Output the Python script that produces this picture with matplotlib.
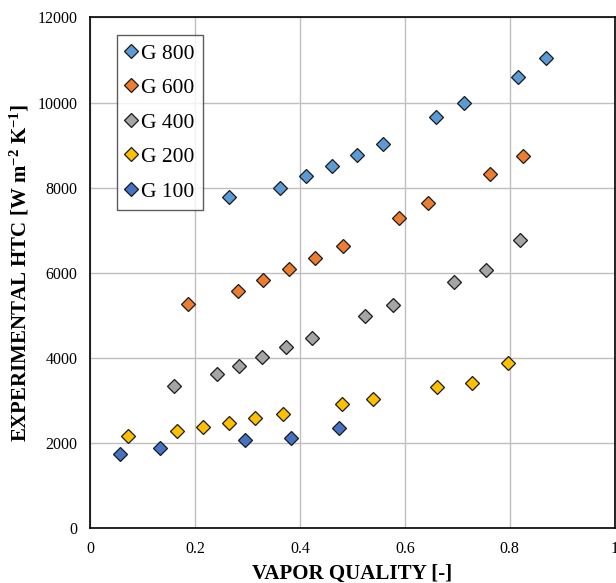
import numpy as np
import matplotlib
matplotlib.use("Agg")
import matplotlib.pyplot as plt

# values
x_g800 = [0.264, 0.362, 0.411, 0.460, 0.509, 0.558, 0.660, 0.712, 0.816, 0.869]
y_g800 = [7790, 8005, 8265, 8520, 8765, 9020, 9655, 9990, 10595, 11040]

x_g600 = [0.187, 0.282, 0.330, 0.379, 0.429, 0.481, 0.589, 0.645, 0.763, 0.825]
y_g600 = [5280, 5565, 5825, 6085, 6360, 6640, 7295, 7640, 8335, 8755]

x_g400 = [0.160, 0.241, 0.283, 0.327, 0.373, 0.422, 0.523, 0.578, 0.694, 0.755, 0.819]
y_g400 = [3350, 3615, 3820, 4025, 4260, 4480, 4990, 5240, 5790, 6060, 6775]

x_g200 = [0.072, 0.166, 0.214, 0.264, 0.314, 0.368, 0.480, 0.539, 0.662, 0.728, 0.796]
y_g200 = [2180, 2290, 2390, 2480, 2595, 2695, 2925, 3040, 3320, 3425, 3875]

x_g100 = [0.057, 0.132, 0.295, 0.383, 0.474]
y_g100 = [1755, 1880, 2070, 2125, 2355]

series = [
    ('G 800', x_g800, y_g800, '#5B9BD5'),
    ('G 600', x_g600, y_g600, '#ED7D31'),
    ('G 400', x_g400, y_g400, '#A5A5A5'),
    ('G 200', x_g200, y_g200, '#FFC000'),
    ('G 100', x_g100, y_g100, '#4472C4'),
]

plt.rcParams['font.family'] = ['Liberation Serif', 'DejaVu Serif']
plt.rcParams['mathtext.fontset'] = 'custom'
plt.rcParams['mathtext.rm'] = 'Liberation Serif:bold'
plt.rcParams['mathtext.default'] = 'rm'

fig = plt.figure(figsize=(6.16, 5.83), dpi=100)
ax = fig.add_axes([0.1469, 0.0938, 0.8507, 0.8762])

for name, xs, ys, col in series:
    ax.plot(xs, ys, linestyle='none', marker='D', markersize=6.8,
            markerfacecolor=col, markeredgecolor='#1a1a1a',
            markeredgewidth=0.9, label=name, zorder=3)

ax.set_xlim(0, 1)
ax.set_ylim(0, 12000)
ax.set_xticks(np.arange(0, 1.01, 0.2))
ax.set_xticklabels(['0', '0.2', '0.4', '0.6', '0.8', '1'])
ax.set_yticks(np.arange(0, 12001, 2000))
ax.tick_params(length=0, labelsize=11.5)
ax.tick_params(axis='x', pad=9)
ax.tick_params(axis='y', pad=9.5)
ax.grid(True, color='#BFBFBF', linewidth=1.0)
ax.set_axisbelow(True)
for sp in ax.spines.values():
    sp.set_color('black')
    sp.set_linewidth(1.2)

ax.set_xlabel('VAPOR QUALITY [-]', fontsize=15, fontweight='bold', labelpad=5)
ax.set_ylabel(r'EXPERIMENTAL HTC [W m$^{-2}$ K$^{-1}$]', fontsize=15,
              fontweight='bold', labelpad=4)

leg = ax.legend(loc='upper left', bbox_to_anchor=(0.051, 0.966), fontsize=15.5,
                frameon=True, fancybox=False, borderpad=0.4, labelspacing=0.67,
                handlelength=0.5, handletextpad=0.2, borderaxespad=0,
                markerscale=1.0)
leg.get_frame().set_edgecolor('#333333')
leg.get_frame().set_linewidth(1.0)

fig.savefig('out.png', dpi=100)
plt.close(fig)
